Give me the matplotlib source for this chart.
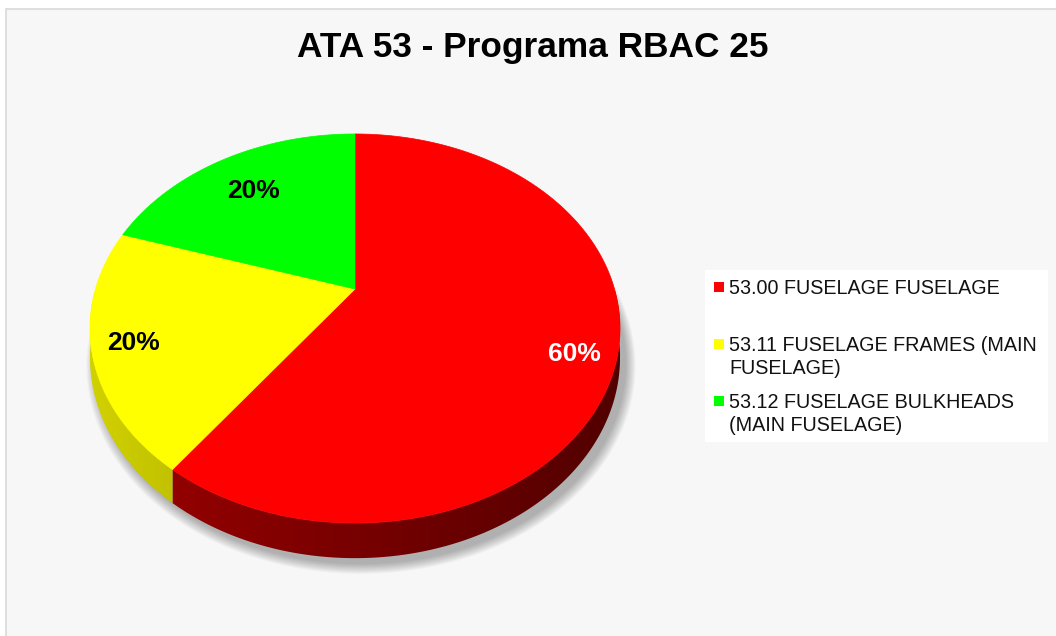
"""
ATA 53 - Programa RBAC 25 : 3D pie chart (Excel style)
"""

import numpy as np
import matplotlib
matplotlib.use('Agg')
from matplotlib import pyplot as plt
from matplotlib.patches import Polygon, Rectangle

TITLE = 'ATA 53 - Programa RBAC 25'
categories = ['53.00 FUSELAGE FUSELAGE',
              '53.11 FUSELAGE FRAMES (MAIN\nFUSELAGE)',
              '53.12 FUSELAGE BULKHEADS\n(MAIN FUSELAGE)']
values = [3, 1, 1]
colors = ['#FF0000', '#FFFF00', '#00FF00']
label_colors = ['white', 'black', 'black']

# tilted disk seen in perspective (pixel units)
CX, CY = 355, 289          # point where the slices meet
RX, RY = 259.5, 186.5
PERSP = 0.203
DEPTH = 28
LEFT, WIDTH = 90, 530
# side shading (start, slope) per slice
side_shade = [(0.62, 0.30), (0.82, 0.40), (0.82, 0.40)]
# label placement: radius and angle nudge (degrees) per slice
label_r = [0.85, 0.85, 0.75]
label_nudge = [-3.6, 0.0, 0.0]

plt.rcParams['font.family'] = ['Liberation Sans', 'DejaVu Sans']


def project(theta, r=1.0, drop=0.0):
    """project a point of the unit disk onto the picture"""
    u = r * np.cos(theta)
    v = r * np.sin(theta)
    w = 1 + PERSP * v
    return CX + RX * u / w, CY - RY * v / w + drop / w


fig = plt.figure(figsize=(10.56, 6.36), dpi=100)
fig.patch.set_facecolor('white')
ax = fig.add_axes([0, 0, 1, 1])
ax.set_xlim(0, 1056)
ax.set_ylim(636, 0)
ax.axis('off')

# chart area
ax.add_patch(Rectangle((5.5, 8.5), 1060, 640, facecolor='#F7F7F7',
                       edgecolor='#D9D9D9', linewidth=1.2))

# slice angles, clockwise from 12 o'clock
fracs = np.array(values, dtype=float) / sum(values)
ends = np.pi / 2 - 2 * np.pi * np.cumsum(fracs)
starts = np.concatenate([[np.pi / 2], ends[:-1]])

# soft shadow under the disk
full = np.linspace(0, 2 * np.pi, 400)
sx, sy = project(full, drop=DEPTH)
for k in range(10):
    grow = 1 + 0.004 * k
    ax.add_patch(Polygon(np.column_stack([CX + 6 + (sx - CX) * grow,
                                          CY + 6 + (sy - CY) * grow]),
                         closed=True, facecolor='black', alpha=0.03,
                         edgecolor='none'))

# side walls (front half only), horizontal gradient clipped to the wall
gx = np.linspace(LEFT, LEFT + WIDTH, 256)
for s, e, col, (a, b) in zip(starts, ends, colors, side_shade):
    lo, hi = max(e, -np.pi), min(s, 0.0)
    if lo >= hi:
        continue
    th = np.linspace(hi, lo, 300)
    tx, ty = project(th)
    _, by = project(th, drop=DEPTH)
    wall = np.column_stack([np.concatenate([tx, tx[::-1]]),
                            np.concatenate([ty, by[::-1]])])
    patch = Polygon(wall, closed=True, facecolor='none', edgecolor='none')
    ax.add_patch(patch)
    base = np.array(matplotlib.colors.to_rgb(col))
    shade = np.clip(a - b * (gx - LEFT) / WIDTH, 0, 1)
    img = (shade[:, None] * base[None, :])[None, :, :]
    im = ax.imshow(img, extent=(LEFT, LEFT + WIDTH, 600, 250),
                   aspect='auto', interpolation='bilinear', zorder=2)
    im.set_clip_path(patch)

# top face
for s, e, col in zip(starts, ends, colors):
    th = np.linspace(s, e, 200)
    px, py = project(th)
    pts = np.column_stack([np.concatenate([[CX], px]),
                           np.concatenate([[CY], py])])
    ax.add_patch(Polygon(pts, closed=True, facecolor=col,
                         edgecolor=col, linewidth=0.5, zorder=3))

# data labels
for s, e, f, lc, r, nd in zip(starts, ends, fracs, label_colors,
                              label_r, label_nudge):
    lx, ly = project((s + e) / 2 + np.radians(nd), r=r)
    ax.text(lx, ly + 9.5, '{:.0f}%'.format(f * 100), ha='center',
            va='baseline', fontsize=19, fontweight='bold', color=lc,
            zorder=4)

ax.text(533, 57, TITLE, ha='center', va='baseline', fontsize=25.4,
        fontweight='bold', color='black')

# legend
ax.add_patch(Rectangle((705, 270), 343, 172, facecolor='white',
                       edgecolor='none'))
for i, (cat, col) in enumerate(zip(categories, colors)):
    yc = 287 + 57 * i
    ax.add_patch(Rectangle((714, yc - 5), 10, 10, facecolor=col,
                           edgecolor='none'))
    for j, line in enumerate(cat.split('\n')):
        ax.text(729, yc + 23 * j + 7, line, ha='left', va='baseline',
                fontsize=14.2, color='#111111')

ax.set_xlim(0, 1056)
ax.set_ylim(636, 0)
fig.savefig('out.png', dpi=100, facecolor=fig.get_facecolor())
